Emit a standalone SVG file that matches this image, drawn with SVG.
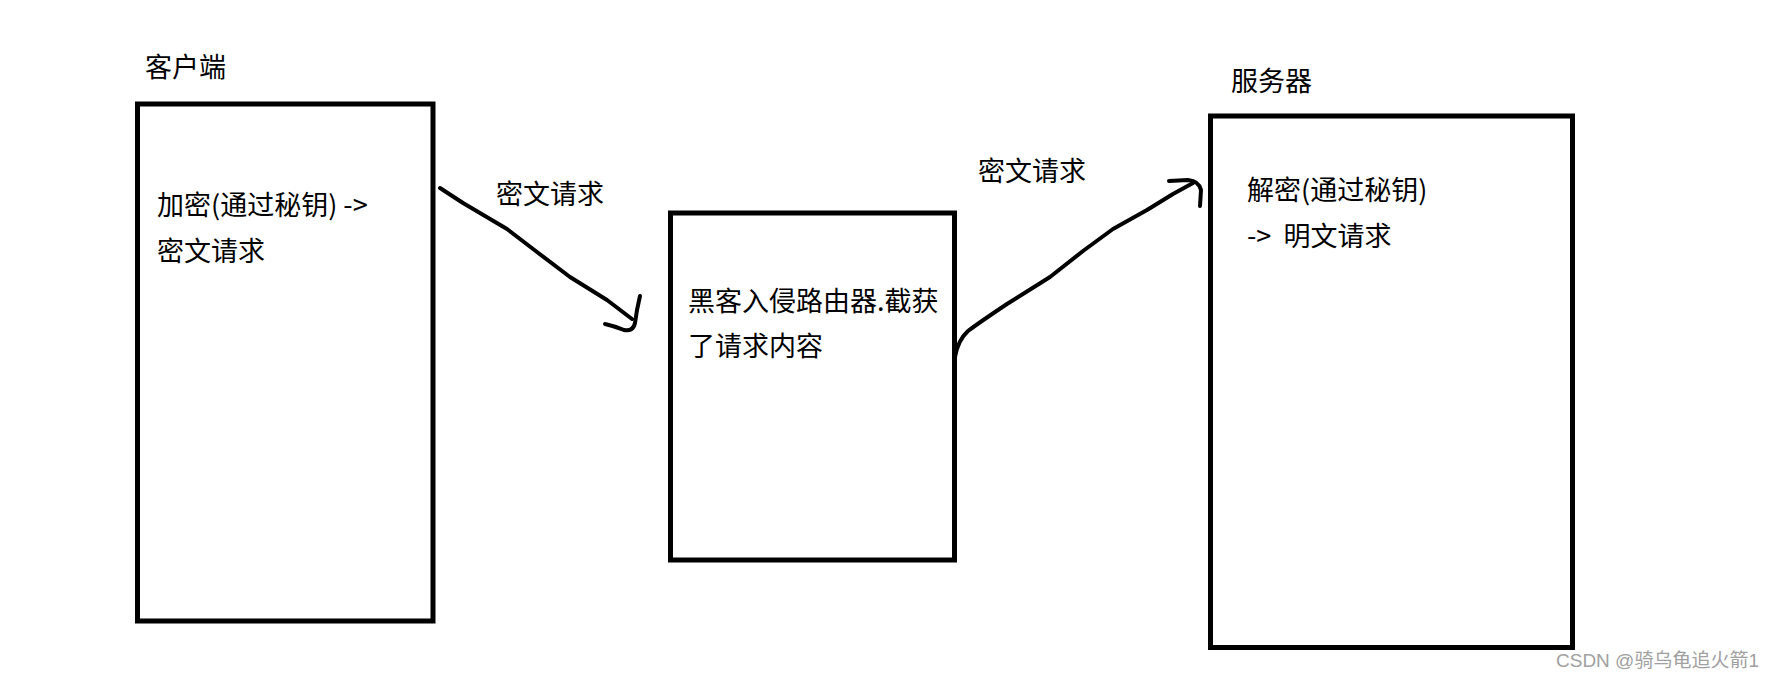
<svg xmlns="http://www.w3.org/2000/svg" width="1774" height="679" viewBox="0 0 1774 679">
<style>
.box{fill:#fff;stroke:#000;stroke-width:5}
.t{font-family:"Noto Sans CJK SC","Noto Sans",sans-serif;font-size:27px;fill:#000}
.c{fill:none;stroke:#000;stroke-width:4;stroke-linecap:round;stroke-linejoin:round}
.wm{font-family:"Liberation Sans","Noto Sans CJK SC",sans-serif;font-size:19px;fill:#a0a0a0}
</style>
<rect width="1774" height="679" fill="#fff"/>
<g id="client">
<text class="t" x="145" y="77">客户端</text>
<rect class="box" x="137.5" y="104" width="295.5" height="517"/>
<text class="t" x="157" y="215">加密(通过秘钥) -&gt;</text>
<text class="t" x="157" y="261">密文请求</text>
</g>
<g id="hacker">
<rect class="box" x="670.5" y="213" width="284" height="347"/>
<text class="t" x="688" y="311">黑客入侵路由器.截获</text>
<text class="t" x="688" y="356">了请求内容</text>
</g>
<g id="server">
<text class="t" x="1231" y="91">服务器</text>
<rect class="box" x="1210.5" y="116" width="362" height="531.5"/>
<text class="t" x="1247" y="200">解密(通过秘钥)</text>
<text class="t" x="1247" y="246" xml:space="preserve">-&gt;  明文请求</text>
</g>
<g id="connectors">
<path class="c" d="M440,188 L463,203 L507,229 L537,252 L570,277 L607,300 L632,319"/>
<path class="c" d="M640,296 L637,310 L635,323 Q633,332 624,330 Q614,326 605,324"/>
<path class="c" d="M955,357 Q958,340 968,331 Q980,322 1007,304 L1050,277 L1083,251 L1113,229 L1147,210 L1173,194 L1193,183"/>
<path class="c" d="M1169,181 L1188,180 Q1199,181 1201,190 L1200,206"/>
<text class="t" x="496" y="204">密文请求</text>
<text class="t" x="978" y="181">密文请求</text>
</g>
<text class="wm" x="1556" y="667">CSDN @骑乌龟追火箭1</text>
</svg>
